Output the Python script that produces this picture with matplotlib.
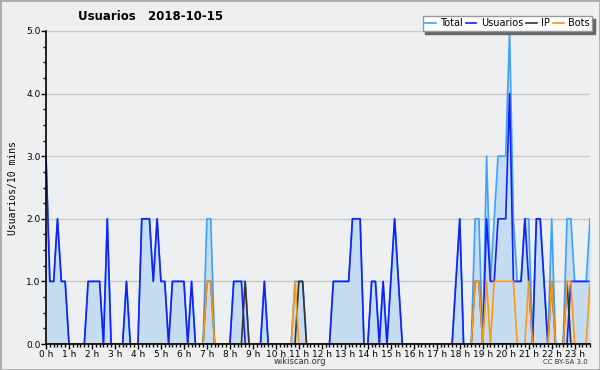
import numpy as np
import matplotlib
matplotlib.use('Agg')
import matplotlib.pyplot as plt
from matplotlib.ticker import MultipleLocator
from matplotlib.patches import Rectangle

# 10 minute steps, 00:00 .. 23:40 (one row per hour)
total = [3, 1, 1, 2, 1, 1,
         0, 0, 0, 0, 0, 1,
         1, 1, 1, 0, 2, 0,
         0, 0, 0, 1, 0, 0,
         0, 2, 2, 2, 1, 2,
         1, 1, 0, 1, 1, 1,
         1, 0, 1, 0, 0, 0,
         2, 2, 0, 0, 0, 0,
         0, 1, 1, 1, 1, 0,
         0, 0, 0, 1, 0, 0,
         0, 0, 0, 0, 0, 1,
         1, 1, 0, 0, 0, 0,
         0, 0, 0, 1, 1, 1,
         1, 1, 2, 2, 2, 0,
         0, 1, 1, 0, 1, 0,
         1, 2, 1, 0, 0, 0,
         0, 0, 0, 0, 0, 0,
         0, 0, 0, 0, 0, 1,
         2, 0, 0, 0, 2, 2,
         0, 3, 1, 2, 3, 3,
         3, 5, 2, 1, 1, 2,
         2, 0, 2, 2, 1, 0,
         2, 0, 0, 0, 2, 2,
         1, 1, 1, 1, 2]

usuarios = [3, 1, 1, 2, 1, 1,
            0, 0, 0, 0, 0, 1,
            1, 1, 1, 0, 2, 0,
            0, 0, 0, 1, 0, 0,
            0, 2, 2, 2, 1, 2,
            1, 1, 0, 1, 1, 1,
            1, 0, 1, 0, 0, 0,
            0, 0, 0, 0, 0, 0,
            0, 1, 1, 1, 0, 0,
            0, 0, 0, 1, 0, 0,
            0, 0, 0, 0, 0, 0,
            0, 0, 0, 0, 0, 0,
            0, 0, 0, 1, 1, 1,
            1, 1, 2, 2, 2, 0,
            0, 1, 1, 0, 1, 0,
            1, 2, 1, 0, 0, 0,
            0, 0, 0, 0, 0, 0,
            0, 0, 0, 0, 0, 1,
            2, 0, 0, 0, 0, 0,
            0, 2, 1, 1, 2, 2,
            2, 4, 1, 1, 1, 2,
            1, 0, 2, 2, 1, 0,
            0, 0, 0, 0, 0, 1,
            1, 1, 1, 1, 1]

ip = [0, 0, 0, 0, 0, 0,
      0, 0, 0, 0, 0, 0,
      0, 0, 0, 0, 0, 0,
      0, 0, 0, 0, 0, 0,
      0, 0, 0, 0, 0, 0,
      0, 0, 0, 0, 0, 0,
      0, 0, 0, 0, 0, 0,
      1, 1, 0, 0, 0, 0,
      0, 0, 0, 0, 1, 0,
      0, 0, 0, 0, 0, 0,
      0, 0, 0, 0, 0, 0,
      1, 1, 0, 0, 0, 0,
      0, 0, 0, 0, 0, 0,
      0, 0, 0, 0, 0, 0,
      0, 0, 0, 0, 0, 0,
      0, 0, 0, 0, 0, 0,
      0, 0, 0, 0, 0, 0,
      0, 0, 0, 0, 0, 0,
      0, 0, 0, 0, 1, 1,
      0, 0, 0, 0, 0, 0,
      0, 0, 0, 0, 0, 0,
      0, 0, 0, 0, 0, 0,
      1, 0, 0, 0, 1, 0,
      0, 0, 0, 0, 0]

bots = [0, 0, 0, 0, 0, 0,
        0, 0, 0, 0, 0, 0,
        0, 0, 0, 0, 0, 0,
        0, 0, 0, 0, 0, 0,
        0, 0, 0, 0, 0, 0,
        0, 0, 0, 0, 0, 0,
        0, 0, 0, 0, 0, 0,
        1, 1, 0, 0, 0, 0,
        0, 0, 0, 0, 0, 0,
        0, 0, 0, 0, 0, 0,
        0, 0, 0, 0, 0, 1,
        0, 0, 0, 0, 0, 0,
        0, 0, 0, 0, 0, 0,
        0, 0, 0, 0, 0, 0,
        0, 0, 0, 0, 0, 0,
        0, 0, 0, 0, 0, 0,
        0, 0, 0, 0, 0, 0,
        0, 0, 0, 0, 0, 0,
        0, 0, 0, 0, 1, 1,
        0, 1, 0, 1, 1, 1,
        1, 1, 1, 0, 0, 0,
        1, 0, 0, 0, 0, 0,
        1, 0, 0, 0, 1, 1,
        0, 0, 0, 0, 1]

hour_labels = ['%d h' % h for h in range(24)]

bg = '#eeeff1'
x = np.arange(len(total))

fig = plt.figure(figsize=(6, 3.7), dpi=100, facecolor=bg)
ax = fig.add_axes([46/600, 1-344/370, 544/600, 313/370])
ax.set_facecolor(bg)

ax.fill_between(x, total, 0, color='#c6dcf0', lw=0)
ax.plot(x, total, color='#3fa0ff', lw=1.2, label='Total')
ax.plot(x, usuarios, color='#1020ff', lw=1.2, label='Usuarios')
ax.plot(x, ip, color='#333333', lw=1.2, label='IP')
ax.plot(x, bots, color='#ff9a10', lw=1.2, label='Bots')

ax.set_xlim(0, len(total) - 1)
ax.set_ylim(0, 5)
ax.set_xticks(np.arange(0, 144, 6))
ax.set_xticklabels(hour_labels, fontsize=6.5)
ax.xaxis.set_minor_locator(MultipleLocator(1))
ax.yaxis.set_major_locator(MultipleLocator(1))
ax.yaxis.set_minor_locator(MultipleLocator(0.25))
ax.set_yticklabels(['%.1f' % v for v in ax.get_yticks()], fontsize=6.5)
ax.tick_params(which='major', length=3.5, width=1, pad=0.5)
ax.tick_params(which='minor', length=2.5, width=1)
ax.grid(axis='y', color='#c8c8c8', lw=1)
ax.set_axisbelow(True)
for s in ['top', 'right']:
    ax.spines[s].set_visible(False)
for s in ['left', 'bottom']:
    ax.spines[s].set_linewidth(1.2)
ax.set_ylabel('Usuarios/10 mins', fontsize=7, family='DejaVu Sans Mono', labelpad=6)

leg = ax.legend(ncol=4, loc='upper right', bbox_to_anchor=(592/600, 1-16/370),
                bbox_transform=fig.transFigure, fontsize=7, frameon=True,
                fancybox=False, shadow={'color': '#666666', 'alpha': 1},
                handlelength=1.1, handletextpad=0.45, columnspacing=0.3,
                borderpad=0.25, borderaxespad=0)
leg.get_frame().set_edgecolor('#999999')
leg.get_frame().set_linewidth(1)

fig.text(151/600, 1-17/370, 'Usuarios   2018-10-15', ha='center', va='center',
         fontsize=8.5, fontweight='bold')
fig.text(300/600, 1-362/370, 'wikiscan.org', ha='center', va='center', fontsize=6, color='#333333')
fig.text(588/600, 1-362/370, 'CC BY-SA 3.0', ha='right', va='center', fontsize=5, color='#333333')
fig.patches.append(Rectangle((0, 0), 1, 1, transform=fig.transFigure, fill=False,
                             edgecolor='#aaaaaa', lw=2))

fig.savefig('out.png', dpi=100, facecolor=bg)
